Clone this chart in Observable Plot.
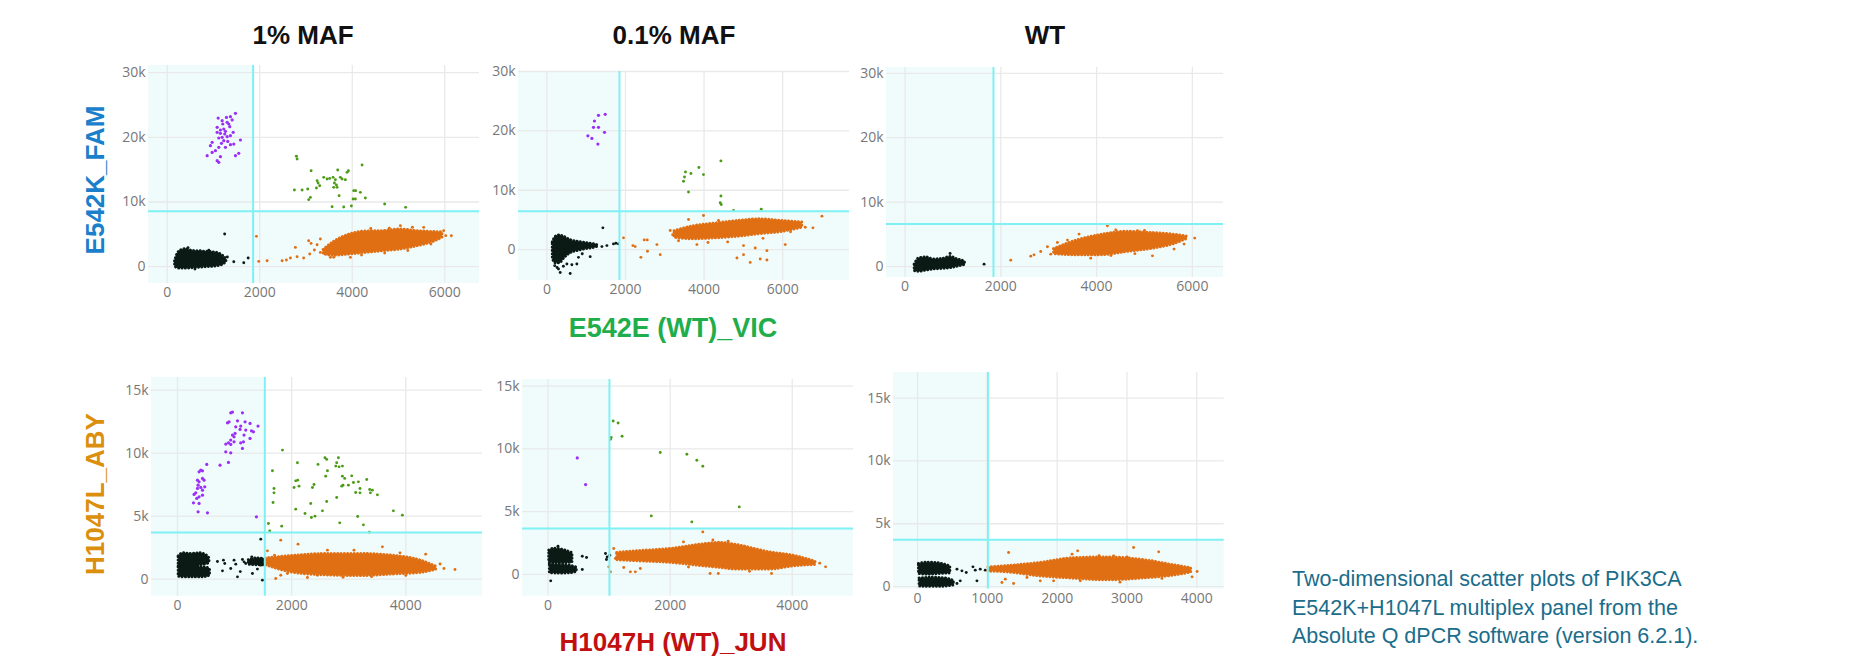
<!DOCTYPE html>
<html><head><meta charset="utf-8">
<script src="https://cdn.jsdelivr.net/npm/d3@7"></script>
<script src="https://cdn.jsdelivr.net/npm/@observablehq/plot@0.6"></script>
<style>
body{margin:0;background:#fff;width:1869px;height:661px;position:relative;overflow:hidden;font-family:"Liberation Sans",Arial,sans-serif}
.lab{position:absolute;font-weight:bold;font-size:26px;white-space:nowrap;transform:translate(-50%,-50%);line-height:1}
.rot{transform:translate(-50%,-50%) rotate(-90deg)}
.cap{position:absolute;left:1292px;top:565px;font-size:21.5px;line-height:28.5px;color:#1a6d8b;white-space:nowrap}
.pn{position:absolute}
</style></head><body>
<div class="lab" style="left:303px;top:35px;color:#111">1% MAF</div>
<div class="lab" style="left:674px;top:35px;color:#111">0.1% MAF</div>
<div class="lab" style="left:1045px;top:35px;color:#111">WT</div>
<div class="lab rot" style="left:95px;top:180px;color:#1a80cc">E542K_FAM</div>
<div class="lab rot" style="left:95px;top:494px;color:#db8f0c">H1047L_ABY</div>
<div class="lab" style="left:673px;top:328px;color:#1fae4b;font-size:27px">E542E (WT)_VIC</div>
<div class="lab" style="left:673px;top:642px;color:#c20f0f">H1047H (WT)_JUN</div>
<div class="cap">Two-dimensional scatter plots of PIK3CA<br>E542K+H1047L multiplex panel from the<br>Absolute Q dPCR software (version 6.2.1).</div>
<script>
// ---------- tick values / labels ----------
const topXTicks = [0, 2000, 4000, 6000];
const topYTicks = [0, 10000, 20000, 30000];
const topYLabels = ["0", "10k", "20k", "30k"];
const botXTicks = [0, 2000, 4000];
const botXTicksWT = [0, 1000, 2000, 3000, 4000];
const botYTicks = [0, 5000, 10000, 15000];
const botYLabels = ["0", "5k", "10k", "15k"];

// ---------- axis domains [x, y] ----------
const p1Domain = [[-404, 6750], [-2600, 31100]];
const p2Domain = [[-722, 7700], [-5200, 30000]];
const p3Domain = [[-388, 6650], [-1700, 30900]];
const p4Domain = [[-455, 5343], [-1350, 16000]];
const p5Domain = [[-418, 5003], [-1730, 15530]];
const p6Domain = [[-344, 4392], [-200, 17040]];

// ---------- thresholds [x, y] ----------
const p1Thr = [1857, 8550];
const p2Thr = [1847, 6480];
const p3Thr = [1846, 6600];
const p4Thr = [1530, 3706];
const p5Thr = [1006, 3662];
const p6Thr = [1008, 3718];

// ---------- panel 1: E542K 1% MAF ----------
const p1Purple = [[1475,23700],[1367,23190],[1281,23080],[1404,22680],[1296,22310],[1102,22980],[1201,22060],[1080,21540],[1223,21280],[1352,21640],[1426,20770],[1151,20610],[1244,20510],[1188,19990],[1296,20100],[1367,20250],[1115,19890],[1223,19480],[1309,19370],[1173,19070],[1439,18960],[972,19220],[935,18710],[1115,18450],[1043,17930],[1259,18450],[1367,18860],[1583,19580],[1547,17520],[1475,17160],[1151,17010],[1080,16390],[1115,16130],[864,17160],[972,17670],[1151,21130],[1259,20920],[1080,20770],[1188,22570],[1331,22060]];
const p1Green = [[2793,17060],[2808,16650],[3110,14840],[2750,11850],[2916,11850],[3037,12010],[3240,13300],[3262,12940],[3296,12520],[3225,12160],[3383,13810],[3456,13550],[3512,13650],[3586,13810],[3635,13450],[3685,14950],[3743,13810],[3780,13550],[3888,14580],[3916,14840],[3851,13450],[3614,12940],[3657,12630],[3599,12260],[3672,12260],[4212,15720],[3715,10980],[3095,10710],[3059,10360],[4031,11750],[4074,11750],[4175,11490],[4018,10470],[4067,10470],[4283,10620],[3564,9276],[3815,9230],[3981,9384],[4700,9693],[5154,9168]];
const p1BlackBody = [[170,100,800],[220,-250,1900],[300,-300,2500],[400,-300,2700],[500,-250,2500],[600,-200,2400],[700,-150,2400],[800,-100,2300],[900,-50,2300],[1000,0,2200],[1100,100,2100],[1200,300,1700],[1280,700,1200]];
const p1BlackOut = [[1242,5050],[1439,773],[1655,618],[1750,1345],[450,2950],[900,2550],[1300,1500],[600,-350]];
const p1OrangeBody = [[3383,1900,2600],[3599,1700,3800],[3960,1900,5000],[4320,2150,5450],[4680,2400,5500],[5040,2650,5750],[5400,3150,5500],[5760,3850,5350],[5950,4500,5300]];
const p1OrangeOut = [[1929,4690],[1979,820],[2160,928],[2484,928],[2577,1036],[2663,1345],[2771,2984],[2808,1546],[2950,1345],[3080,1963],[3110,3602],[3182,2582],[3240,3400],[3311,2211],[3527,1442],[6141,4790],[3058,4020],[3311,4280],[5040,6340],[5543,6080],[5975,5570],[3600,1440],[3960,1440],[4400,5900],[4800,5950],[5300,6100],[4200,1800],[4700,2100],[5200,2500],[5700,3500],[6020,4800]];

// ---------- panel 2: E542K 0.1% MAF ----------
const p2Purple = [[1484,22790],[1313,22620],[1211,21660],[1186,20590],[1313,20590],[1043,19170],[1145,18730],[1466,19750],[1298,17770]];
const p2Green = [[4428,14940],[3868,13820],[3527,13080],[3665,12810],[3502,12230],[3477,11510],[3985,12640],[3604,9700],[4428,9020],[4411,7900],[4436,7610],[4749,6600],[5454,6820]];
const p2BlackBody = [[150,-1500,1200],[220,-2300,2100],[320,-2300,2400],[450,-1400,2100],[600,-600,1600],[800,-200,1300],[1000,100,1100],[1200,300,900],[1300,500,700]];
const p2BlackOut = [[295,-3270],[339,-3840],[593,-4010],[509,-2420],[636,-2540],[763,-2420],[804,-1300],[1102,-1184],[1425,3670],[1400,508],[1527,677],[1695,964],[1756,1066],[1822,964],[200,-2700],[260,-3000],[420,-2800],[900,-700]];
const p2OrangeBody = [[3250,2000,3100],[3700,1750,3900],[4300,1900,4400],[4900,2200,4850],[5400,2600,5100],[5950,2950,4850],[6500,3700,4550]];
const p2OrangeOut = [[1950,1980],[2189,677],[2247,508],[2476,1640],[2553,1640],[2560,-282],[2392,-1300],[2800,846],[2884,-846],[3138,3215],[3604,5076],[3985,5753],[4367,4907],[4836,-1410],[5004,-846],[5174,-2150],[5429,-1580],[5599,-1740],[5004,677],[5301,282],[5599,-169],[6065,846],[3818,846],[6770,3670],[6999,5640],[6574,3780],[3200,2500],[3350,1500],[4100,1200],[4600,1300],[5500,1900],[6200,3000]];

// ---------- panel 3: E542K WT ----------
const p3BlackBody = [[200,-700,300],[300,-800,1300],[450,-600,1400],[600,-450,1100],[800,-350,1200],[950,-250,1500],[1100,0,1100],[1250,250,800]];
const p3BlackOut = [[1650,373],[940,2022]];
const p3OrangeBody = [[3111,1928,2706],[3529,1764,3900],[4086,1764,4900],[4644,2277,5400],[5199,2806,5187],[5617,3483,4938],[5880,4261,4674]];
const p3OrangeOut = [[2207,995],[2625,1617],[2693,1819],[2833,2333],[2973,3063],[3042,1928],[3182,3732],[3391,4105],[3633,5038],[3877,1306],[4226,6329],[4853,5551],[5166,1664],[5617,2706],[5826,3483],[5860,4416],[6049,4416],[4400,5700],[5000,5600],[4300,1700],[4800,2000]];

// ---------- panel 4: H1047L 1% MAF ----------
const p4Purple = [[933,13200],[963,13255],[1138,13200],[876,12406],[904,12485],[1051,12564],[1184,12485],[1271,12358],[1411,12144],[1021,12088],[1108,12144],[1096,11882],[1196,11826],[1296,11770],[1331,11691],[1009,11564],[963,11429],[991,11294],[1166,11429],[1271,11167],[933,11032],[893,10818],[846,10715],[933,10691],[991,10898],[1108,10818],[1156,10898],[1138,10374],[846,10104],[933,10025],[513,9104],[746,9048],[893,9263],[408,8651],[438,8596],[378,8516],[350,7858],[378,7723],[438,7993],[466,7858],[361,7461],[350,7199],[408,7278],[478,7326],[438,7064],[320,6850],[291,6723],[378,6532],[438,6667],[338,6405],[280,6056],[378,6008],[361,5342],[525,5262],[1383,4945]];
const p4Green = [[1839,10239],[1663,8596],[1691,7199],[1691,6850],[1674,6088],[1593,4421],[1616,3834],[1826,4207],[2101,9231],[2462,9104],[2584,9628],[2614,9501],[2819,9628],[2789,9231],[2772,8969],[2830,8913],[2889,8969],[2627,8596],[2597,8175],[2071,7802],[2106,7858],[2042,7278],[2129,7381],[2364,7278],[2392,7516],[2889,8175],[2929,7993],[3052,8199],[2877,7381],[2900,7461],[2994,7461],[3082,7675],[3169,7723],[3315,7913],[3122,6881],[3197,6850],[3197,7199],[3367,7119],[3414,7064],[3379,6850],[3502,6691],[2789,6485],[2614,6167],[2334,6008],[2071,5556],[2234,5215],[2346,4897],[2409,5000],[2539,5421],[2842,4469],[3157,4977],[3257,4310],[3362,3730],[3782,5421],[3940,5080]];
const p4BlackTop = [[20,1000,1800],[100,900,2050],[250,900,2000],[400,1100,2050],[520,1200,1850],[560,1300,1650]];
const p4BlackBot = [[20,200,1000],[100,150,1100],[250,150,1100],[400,150,950],[520,200,900],[570,300,800]];
const p4BlackStrip = [[1250,1150,1500],[1400,1100,1650],[1520,1100,1600]];
const p4BlackOut = [[805,1508],[828,1246],[788,659],[933,849],[991,1508],[1021,1191],[1051,183],[1138,1564],[1166,1373],[1196,1246],[1313,452],[1354,1373],[1401,1564],[1446,1373],[1459,1111],[1488,-79],[1459,3175],[1284,1508],[1254,1294],[1401,1246],[1301,1770],[1488,1564],[700,1400],[1100,600],[1400,800]];
const p4OrangeBody = [[1546,1111,1643],[2042,500,1850],[2627,300,2000],[3210,250,2000],[3793,380,1850],[4260,500,1480],[4530,750,1000]];
const p4OrangeOut = [[1576,2246],[1809,3095],[2112,2778],[1721,56],[1809,317],[1926,452],[2276,135],[2451,317],[3590,2564],[3898,2087],[4348,1984],[4668,849],[4861,770],[4143,579],[4378,714],[3092,2302],[2627,2302],[2900,150],[3400,200],[4000,300],[1700,1900],[4600,1200]];

// ---------- panel 5: H1047L 0.1% MAF ----------
const p5Purple = [[479,9281],[615,7164]];
const p5Green = [[1067,12227],[1148,12067],[1034,10905],[1023,10770],[1213,11009],[1838,9711],[2274,9576],[2437,9098],[2535,8621],[3132,5381],[1691,4665],[2355,4187]];
const p5BlackTop = [[20,950,1900],[100,900,2050],[250,900,1950],[400,950,1700]];
const p5BlackBot = [[30,100,800],[200,80,750],[350,100,700],[470,200,550]];
const p5BlackOut = [[163,2253],[44,-509],[561,1457],[631,1353],[561,398],[941,1672],[969,1401],[957,1194],[1011,1536]];
const p5OrangeBody = [[1132,1138,1719],[1458,1053,1850],[2001,926,2030],[2544,655,2400],[2817,528,2520],[3089,392,2350],[3632,392,1760],[4012,640,1500],[4380,760,1020]];
const p5OrangeOut = [[1076,2070],[1104,1274],[995,605],[1023,207],[1240,557],[1349,207],[1430,207],[1512,478],[2218,2595],[2654,80],[2789,80],[3660,80],[4175,1003],[4285,955],[4546,605],[2535,3391],[2700,2750],[2950,2650],[3300,250],[2300,600],[4450,900]];

// ---------- panel 6: H1047L WT ----------
const p6BlackTop = [[20,1000,1800],[150,950,1900],[300,1000,1850],[470,1050,1600]];
const p6BlackBot = [[30,0,650],[200,-20,700],[400,0,650],[520,100,450]];
const p6BlackOut = [[565,1385],[636,1250],[698,1114],[794,1568],[827,1305],[898,1385],[970,1305],[851,454],[612,454],[565,239]];
const p6OrangeBody = [[1017,1194,1512],[1281,1134,1630],[1758,812,1880],[2235,629,2260],[2714,494,2320],[3191,629,2140],[3668,872,1700],[3920,1114,1465]];
const p6OrangeOut = [[1304,2706],[2293,2842],[2213,2579],[3095,3104],[3454,2762],[2809,2444],[4004,1194],[3932,772],[1209,318],[1257,589],[1376,239],[1568,716],[1758,454],[1949,454],[2331,454],[3359,2046],[2600,2450],[3000,2350],[2900,350],[3500,650]];

// ---------- styling ----------
const C = {black:"#0c1a16", orange:"#e06f14", green:"#4b9b17", purple:"#9b2ff5", shade:"#f0fbfc", thr:"#7ff0f3", grid:"#e9e9e9", tick:"#777"};

// dense droplet clouds: envelope, edge drawn as a dotted outline
function body(data, color){
  return [
    Plot.areaY(data, {x: d => d[0], y1: d => d[1], y2: d => d[2], fill: color, curve: "monotone-x"}),
    Plot.areaY(data, {x: d => d[0], y1: d => d[1], y2: d => d[2], fill: "none", stroke: color, strokeWidth: 3, strokeDasharray: "0.1 3.2", strokeLinecap: "round", curve: "monotone-x"})
  ];
}
function dots(data, color, r = 1.45){
  return Plot.dot(data, {x: d => d[0], y: d => d[1], r, fill: color, stroke: "none"});
}

function panel(frame, domain, thr, xTicks, yTicks, yLabels, layers){
  const [L, R, T, B] = frame;
  const mL = 45, mR = 6, mT = 6, mB = 30;
  const [xd, yd] = domain;
  const shade = [
    {x1: xd[0], x2: thr[0], y1: yd[0], y2: yd[1]},
    {x1: thr[0], x2: xd[1], y1: yd[0], y2: thr[1]}
  ];
  const svg = Plot.plot({
    width: R - L + mL + mR, height: B - T + mT + mB,
    marginLeft: mL, marginRight: mR, marginTop: mT, marginBottom: mB,
    x: {domain: xd}, y: {domain: yd},
    style: {background: "transparent", fontFamily: "'Open Sans', sans-serif", overflow: "visible"},
    marks: [
      Plot.rect(shade, {x1: "x1", x2: "x2", y1: "y1", y2: "y2", fill: C.shade}),
      Plot.gridX(xTicks, {stroke: C.grid, strokeOpacity: 1, strokeWidth: 1.3}),
      Plot.gridY(yTicks, {stroke: C.grid, strokeOpacity: 1, strokeWidth: 1.3}),
      Plot.axisX(xTicks, {tickSize: 0, tickPadding: 4, fontSize: 14, fill: C.tick, label: null, tickFormat: d => String(d)}),
      Plot.axisY(yTicks, {tickSize: 0, tickPadding: 3, fontSize: 14, fill: C.tick, label: null, tickFormat: d => yLabels[yTicks.indexOf(d)]}),
      ...layers.flat(),
      Plot.ruleX([thr[0]], {stroke: C.thr, strokeWidth: 2}),
      Plot.ruleY([thr[1]], {stroke: C.thr, strokeWidth: 2})
    ]
  });
  svg.classList.add("pn");
  svg.style.left = (L - mL) + "px";
  svg.style.top = (T - mT) + "px";
  document.body.appendChild(svg);
}

panel([148, 479, 65, 283], p1Domain, p1Thr, topXTicks, topYTicks, topYLabels, [
  body(p1BlackBody, C.black), dots(p1BlackOut, C.black),
  body(p1OrangeBody, C.orange), dots(p1OrangeOut, C.orange),
  dots(p1Green, C.green), dots(p1Purple, C.purple, 1.6)
]);
panel([518.3, 849.3, 71, 280], p2Domain, p2Thr, topXTicks, topYTicks, topYLabels, [
  body(p2BlackBody, C.black), dots(p2BlackOut, C.black),
  body(p2OrangeBody, C.orange), dots(p2OrangeOut, C.orange),
  dots(p2Green, C.green), dots(p2Purple, C.purple, 1.6)
]);
panel([885.7, 1222.7, 66.7, 276.7], p3Domain, p3Thr, topXTicks, topYTicks, topYLabels, [
  body(p3BlackBody, C.black), dots(p3BlackOut, C.black),
  body(p3OrangeBody, C.orange), dots(p3OrangeOut, C.orange)
]);
panel([150.7, 481.7, 377.3, 596], p4Domain, p4Thr, botXTicks, botYTicks, botYLabels, [
  body(p4BlackTop, C.black), body(p4BlackBot, C.black), body(p4BlackStrip, C.black), dots(p4BlackOut, C.black),
  body(p4OrangeBody, C.orange), dots(p4OrangeOut, C.orange),
  dots(p4Green, C.green), dots(p4Purple, C.purple, 1.6)
]);
panel([521.7, 852.7, 379.3, 596], p5Domain, p5Thr, botXTicks, botYTicks, botYLabels, [
  body(p5BlackTop, C.black), body(p5BlackBot, C.black), dots(p5BlackOut, C.black),
  body(p5OrangeBody, C.orange), dots(p5OrangeOut, C.orange),
  dots(p5Green, C.green), dots(p5Purple, C.purple, 1.6)
]);
panel([893.3, 1224, 371.7, 588.3], p6Domain, p6Thr, botXTicksWT, botYTicks, botYLabels, [
  body(p6BlackTop, C.black), body(p6BlackBot, C.black), dots(p6BlackOut, C.black),
  body(p6OrangeBody, C.orange), dots(p6OrangeOut, C.orange)
]);
</script>
</body></html>
